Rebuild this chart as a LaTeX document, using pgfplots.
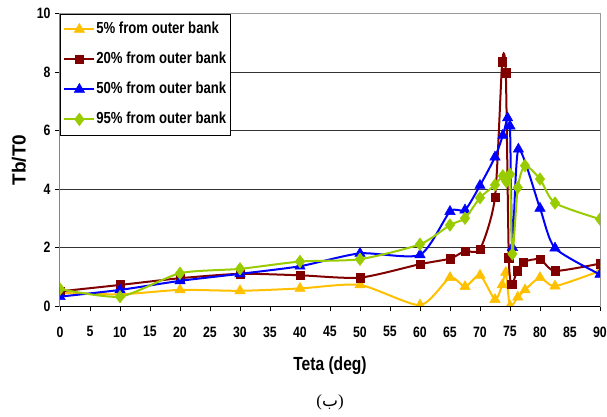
\documentclass[border=0pt]{standalone}
\usepackage{fontspec}
\setmainfont{Liberation Sans}[FakeStretch=0.82]
\newfontfamily\widefont{Liberation Sans}
\newfontfamily\seriffont{Liberation Serif}
\newfontfamily\arabicfont[Script=Arabic]{DejaVu Sans}
\usepackage{pgfplots}
\pgfplotsset{compat=1.18}
\definecolor{cyel}{HTML}{FFC000}
\definecolor{cred}{HTML}{800000}
\definecolor{cblu}{HTML}{0000FF}
\definecolor{cgrn}{HTML}{99CC00}
\begin{document}
\begin{tikzpicture}
\useasboundingbox (-60pt,-110pt) rectangle (547pt,306pt);
\begin{axis}[
  scale only axis, width=540pt, height=292.5pt,
  xmin=0, xmax=90, ymin=0, ymax=10,
  xtick={0,5,...,90}, ytick={0,2,...,10},
  xtick pos=bottom, ytick pos=left,
  tick align=outside, major tick length=5pt,
  tick style={black, line width=0.8pt},
  /pgf/number format/assume math mode=true,
  tick label style={font=\bfseries\fontsize{15}{17}\selectfont},
  xticklabel style={yshift=-12pt},
  yticklabel style={xshift=-1pt},
  ymajorgrids, grid style={black!80, line width=0.8pt},
  axis line style={draw=black!40, line width=1pt},
  clip marker paths=true,
  every axis plot/.append style={line width=2pt, smooth, tension=0.4},
  legend cell align=left,
  legend image code/.code={\draw[mark repeat=2,mark phase=2] plot coordinates {(0pt,0pt)(15pt,0pt)(30pt,0pt)};},
  legend style={at={(0,1)}, anchor=north west, draw=black, line width=0.8pt, fill=white,
    inner xsep=3pt, inner ysep=7pt, row sep=13pt,
    font=\bfseries\fontsize{16}{18}\selectfont,
    nodes={inner sep=1pt, text height=12pt, text depth=3pt}},
]
\addplot[color=cyel, mark=triangle*, mark size=6pt, mark options={solid, fill=cyel, line width=0.5pt}] coordinates {
(0,0.45) (10,0.40) (20,0.55) (30,0.52) (40,0.60) (50,0.72) (60,0.03) (65,0.97) (67.5,0.66) (70,1.05) (72.5,0.22) (73.7,0.72) (74.3,1.15) (75,0.0) (76.3,0.30) (77.5,0.55) (80,0.97) (82.5,0.68) (90,1.20)};
\addlegendentry{5\% from outer bank}
\addplot[color=cred, mark=square*, mark size=4.2pt, mark options={solid, fill=cred, line width=0.5pt}] coordinates {
(0,0.50) (10,0.72) (20,0.95) (30,1.10) (40,1.05) (50,0.97) (60,1.43) (65,1.62) (67.5,1.88) (70,1.94) (72.5,3.72) (73.7,8.35) (74.3,7.97) (74.8,1.65) (75.3,0.75) (76.2,1.20) (77.2,1.50) (80,1.60) (82.5,1.20) (90,1.45)};
\addlegendentry{20\% from outer bank}
\addplot[color=cblu, mark=triangle*, mark size=6pt, mark options={solid, fill=cblu, line width=0.5pt}] coordinates {
(0,0.32) (10,0.55) (20,0.86) (30,1.10) (40,1.36) (50,1.80) (60,1.75) (65,3.23) (67.5,3.28) (70,4.12) (72.5,5.09) (73.8,5.83) (74.6,6.43) (75,6.15) (75.4,2.00) (76.4,5.36) (80,3.34) (82.5,1.98) (90,1.08)};
\addlegendentry{50\% from outer bank}
\addplot[color=cgrn, mark=diamond*, mark size=6.3pt, mark options={solid, fill=cgrn, line width=0.5pt}] coordinates {
(0,0.58) (10,0.32) (20,1.12) (30,1.27) (40,1.52) (50,1.60) (60,2.11) (65,2.77) (67.5,3.00) (70,3.70) (72.5,4.14) (73.8,4.45) (74.4,4.25) (75,4.50) (75.4,1.78) (76.3,4.05) (77.5,4.80) (80,4.34) (82.5,3.52) (90,2.97)};
\addlegendentry{95\% from outer bank}
\draw[black, line width=1pt] (rel axis cs:0,1) -- (rel axis cs:0,0) -- (rel axis cs:1,0);
\end{axis}
\node[font=\bfseries\fontsize{19}{21}\selectfont] at (270pt,-60pt) {Teta (deg)};
\node[rotate=90, font=\widefont\bfseries\fontsize{19}{21}\selectfont] at (-41pt,146pt) {Tb/T0};
\node[font=\seriffont\fontsize{17}{19}\selectfont] at (270pt,-96pt) {({\arabicfont ب})};
\end{tikzpicture}
\end{document}
